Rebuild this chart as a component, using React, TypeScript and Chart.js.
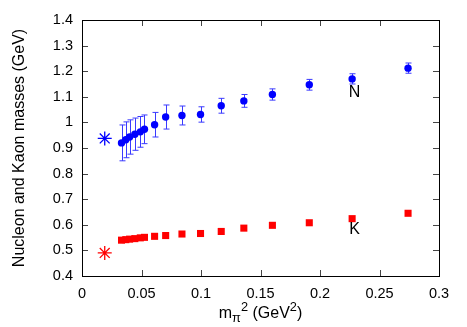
import React, { useEffect, useRef } from "react";
import { Chart, registerables } from "chart.js";

Chart.register(...registerables);

// m_pi^2 (GeV^2)
const mpi2 = [0.0332, 0.0368, 0.0400, 0.0444, 0.0490, 0.0525, 0.0610, 0.0703, 0.0840, 0.0996, 0.117, 0.136, 0.160, 0.191, 0.227, 0.274];
// Nucleon masses and errors (GeV)
const nucleon = [0.920, 0.932, 0.943, 0.954, 0.963, 0.973, 0.991, 1.021, 1.027, 1.031, 1.065, 1.084, 1.109, 1.147, 1.170, 1.212];
const nucleonErr = [0.070, 0.070, 0.067, 0.063, 0.060, 0.056, 0.048, 0.047, 0.037, 0.030, 0.029, 0.025, 0.022, 0.021, 0.020, 0.020];
// Kaon masses (GeV)
const kaon = [0.540, 0.542, 0.544, 0.546, 0.549, 0.551, 0.555, 0.558, 0.564, 0.566, 0.574, 0.587, 0.598, 0.608, 0.624, 0.645];
// Physical points
const physX = [0.0191];
const physN = [0.9375];
const physK = [0.49];
// Text labels
const labelText = ["N", "K"];
const labelX = [0.229, 0.229];
const labelY = [1.118, 0.583];

const xTicks = [0, 0.05, 0.1, 0.15, 0.2, 0.25, 0.3];
const yTicks = [0.4, 0.5, 0.6, 0.7, 0.8, 0.9, 1.0, 1.1, 1.2, 1.3, 1.4];

const FONT = "'Liberation Sans', Arial, Helvetica, sans-serif";

const framePlugin = {
  id: "frame",
  beforeDatasetsDraw(chart: any) {
    const ctx = chart.ctx;
    const xs = chart.scales.x;
    const ys = chart.scales.y;
    ctx.save();
    ctx.strokeStyle = "#3a3aff";
    ctx.lineWidth = 1;
    for (let i = 0; i < mpi2.length; i++) {
      const px = Math.round(xs.getPixelForValue(mpi2[i])) + 0.5;
      const top = ys.getPixelForValue(nucleon[i] + nucleonErr[i]);
      const bot = ys.getPixelForValue(nucleon[i] - nucleonErr[i]);
      ctx.beginPath();
      ctx.moveTo(px, top);
      ctx.lineTo(px, bot);
      ctx.moveTo(px - 3, top);
      ctx.lineTo(px + 3, top);
      ctx.moveTo(px - 3, bot);
      ctx.lineTo(px + 3, bot);
      ctx.stroke();
    }
    ctx.restore();
  },
  afterDraw(chart: any) {
    const ctx = chart.ctx;
    const { left, right, top, bottom } = chart.chartArea;
    const xs = chart.scales.x;
    const ys = chart.scales.y;
    ctx.save();
    // inward ticks
    ctx.strokeStyle = "#444";
    ctx.lineWidth = 1;
    const tl = 6;
    ctx.beginPath();
    xTicks.forEach((v) => {
      const px = Math.round(xs.getPixelForValue(v)) + 0.5;
      ctx.moveTo(px, bottom);
      ctx.lineTo(px, bottom - tl);
      ctx.moveTo(px, top);
      ctx.lineTo(px, top + tl);
    });
    yTicks.forEach((v) => {
      const py = Math.round(ys.getPixelForValue(v)) + 0.5;
      ctx.moveTo(left, py);
      ctx.lineTo(left + tl, py);
      ctx.moveTo(right, py);
      ctx.lineTo(right - tl, py);
    });
    ctx.stroke();
    // frame
    ctx.strokeStyle = "#000";
    ctx.strokeRect(Math.round(left) + 0.5, Math.round(top) + 0.5, Math.round(right - left), Math.round(bottom - top));
    // N / K labels
    ctx.fillStyle = "#000";
    ctx.font = `16px ${FONT}`;
    ctx.textAlign = "center";
    ctx.textBaseline = "middle";
    labelText.forEach((t, i) => {
      ctx.fillText(t, xs.getPixelForValue(labelX[i]), ys.getPixelForValue(labelY[i]));
    });
    // x title: m_pi^2 (GeV^2)
    const big = `16px ${FONT}`;
    const small = `12.8px ${FONT}`;
    const parts: [string, string, number][] = [
      ["m", big, 0],
      ["\u03c0", small, 4],
      ["2", small, -7],
      [" (GeV", big, 0],
      ["2", small, -7],
      [")", big, 0],
    ];
    const widths = parts.map(([t, f]) => {
      ctx.font = f;
      return ctx.measureText(t).width;
    });
    const total = widths.reduce((a, b) => a + b, 0);
    let x = (left + right) / 2 - total / 2;
    const base = 318;
    ctx.textAlign = "left";
    ctx.textBaseline = "alphabetic";
    parts.forEach(([t, f, dy], i) => {
      ctx.font = f;
      ctx.fillText(t, x, base + dy);
      x += widths[i];
    });
    ctx.restore();
  },
};

export default function App() {
  const ref = useRef<HTMLCanvasElement>(null);
  useEffect(() => {
    document.body.style.margin = "0";
    const ctx = ref.current!.getContext("2d")!;
    const chart = new Chart(ctx, {
      type: "scatter",
      data: {
        datasets: [
          {
            label: "N",
            data: mpi2.map((x, i) => ({ x, y: nucleon[i] })),
            pointStyle: "circle",
            pointRadius: 3.7,
            backgroundColor: "#0000ff",
            borderColor: "#0000ff",
            borderWidth: 0,
          },
          {
            label: "K",
            data: mpi2.map((x, i) => ({ x, y: kaon[i] })),
            pointStyle: "rect",
            pointRadius: 5,
            backgroundColor: "#ff0000",
            borderColor: "#ff0000",
            borderWidth: 0,
          },
          {
            label: "N phys",
            data: physX.map((x, i) => ({ x, y: physN[i] })),
            pointStyle: "star",
            pointRadius: 7,
            borderColor: "#0000ff",
            borderWidth: 1.3,
          },
          {
            label: "K phys",
            data: physX.map((x, i) => ({ x, y: physK[i] })),
            pointStyle: "star",
            pointRadius: 7,
            borderColor: "#ff0000",
            borderWidth: 1.3,
          },
        ],
      },
      options: {
        animation: false,
        responsive: false,
        layout: { padding: { top: 20, right: 28, left: 0, bottom: 0 } },
        plugins: { legend: { display: false }, tooltip: { enabled: false } },
        scales: {
          x: {
            type: "linear",
            min: 0,
            max: 0.3,
            afterFit: (s: any) => {
              s.height = 51;
            },
            afterBuildTicks: (s: any) => {
              s.ticks = xTicks.map((v) => ({ value: v }));
            },
            grid: { display: false, drawTicks: false },
            border: { display: false },
            ticks: {
              padding: 9,
              color: "#000",
              font: { family: FONT, size: 14.5 },
              maxRotation: 0,
              callback: (v: any) => String(Math.round(Number(v) * 1000) / 1000),
            },
          },
          y: {
            type: "linear",
            min: 0.4,
            max: 1.4,
            afterFit: (s: any) => {
              s.width = 82;
            },
            afterBuildTicks: (s: any) => {
              s.ticks = yTicks.map((v) => ({ value: v }));
            },
            grid: { display: false, drawTicks: false },
            border: { display: false },
            title: {
              display: true,
              text: "Nucleon and Kaon masses (GeV)",
              color: "#000",
              font: { family: FONT, size: 16 },
              padding: { top: 10, bottom: 0 },
            },
            ticks: {
              padding: 9,
              color: "#000",
              font: { family: FONT, size: 14.5 },
              callback: (v: any) => String(Math.round(Number(v) * 1000) / 1000),
            },
          },
        },
      },
      plugins: [framePlugin],
    });
    return () => chart.destroy();
  }, []);
  return <canvas ref={ref} width={467} height={327} style={{ display: "block" }} />;
}
